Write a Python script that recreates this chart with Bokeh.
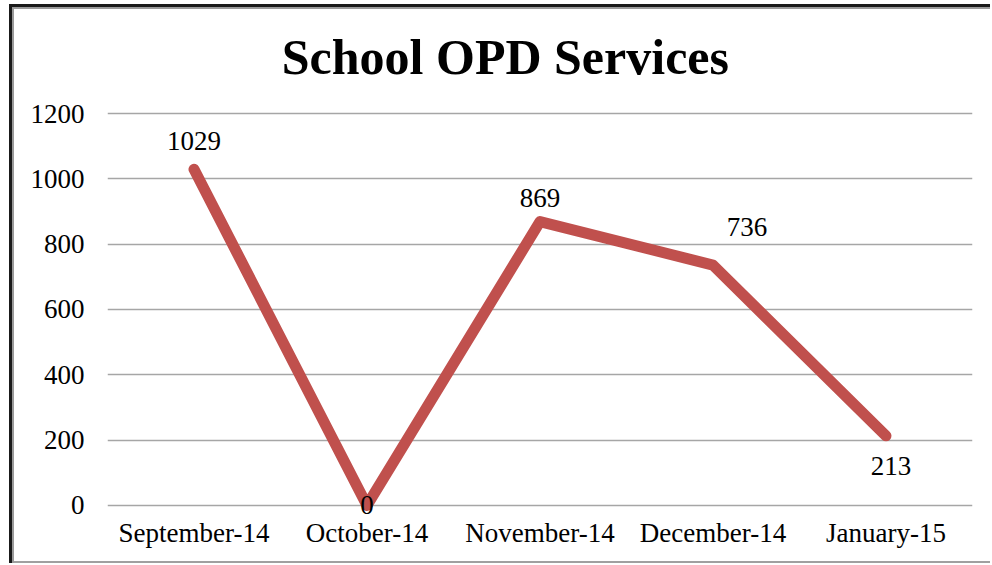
from bokeh.plotting import figure
from bokeh.models import Range1d, FixedTicker, ColumnDataSource, LabelSet, Label
from bokeh.embed import file_html
from bokeh.resources import INLINE

chart_title = "School OPD Services"
months = ["September-14", "October-14", "November-14", "December-14", "January-15"]
visits = [1029, 0, 869, 736, 213]
labels = ["1029", "0", "869", "736", "213"]
y_ticks = [0, 200, 400, 600, 800, 1000, 1200]

# label placement offsets (screen px, y up)
lab_dx = [0, 0, 0, 34, 5]
lab_dy = [28, 0, 24, 38, -30]

FONT = "Liberation Serif"

src = ColumnDataSource(dict(x=months, y=visits, t=labels, dx=lab_dx, dy=lab_dy))

p = figure(x_range=months, y_range=Range1d(-40, 1546), width=990, height=563,
           output_backend="svg", toolbar_location=None,
           min_border_left=107, min_border_right=18, min_border_top=0, min_border_bottom=45)

# decorative chart-area frame (behind the transparent canvas)
p.styles = {
    "background-color": "white",
    "background-image": ("linear-gradient(#1a1a1a,#1a1a1a), linear-gradient(#9a9a9a,#9a9a9a), "
                         "linear-gradient(#1a1a1a,#1a1a1a), linear-gradient(#9a9a9a,#9a9a9a), "
                         "linear-gradient(#a0a0a0,#a0a0a0)"),
    "background-size": "981px 3px, 978px 2px, 3px 559px, 2px 556px, 981px 2px",
    "background-position": "9px 4px, 12px 7px, 9px 4px, 12px 7px, 9px 561px",
    "background-repeat": "no-repeat",
}

p.outline_line_color = None
p.background_fill_color = None
p.border_fill_color = None

# chart title, drawn inside the canvas
p.add_layout(Label(x=2.30, y=1374, text=chart_title, text_align="center",
                   text_baseline="alphabetic", text_font=FONT, text_font_size="50px",
                   text_font_style="bold", text_color="black"))

p.line(x="x", y="y", source=src, line_color="#C0504D", line_width=11,
       line_cap="round", line_join="round")
p.add_layout(LabelSet(x="x", y="y", text="t", source=src, x_offset="dx", y_offset="dy",
                      text_align="center", text_baseline="middle",
                      text_font=FONT, text_font_size="27px", text_color="black"))

p.yaxis.ticker = FixedTicker(ticks=y_ticks)
p.yaxis.axis_line_color = None
p.yaxis.major_tick_line_color = None
p.yaxis.minor_tick_line_color = None
p.yaxis.major_label_text_font = FONT
p.yaxis.major_label_text_font_size = "27px"
p.yaxis.major_label_text_color = "black"
p.yaxis.major_label_standoff = 17

p.xaxis.axis_line_color = None
p.xaxis.major_tick_line_color = None
p.xaxis.major_label_text_font = FONT
p.xaxis.major_label_text_font_size = "27px"
p.xaxis.major_label_text_color = "black"
p.xaxis.major_label_standoff = -7

p.xgrid.grid_line_color = None
p.ygrid.grid_line_color = "#A6A6A6"
p.ygrid.grid_line_width = 1.5

open("out.html", "w").write(file_html(p, INLINE))
